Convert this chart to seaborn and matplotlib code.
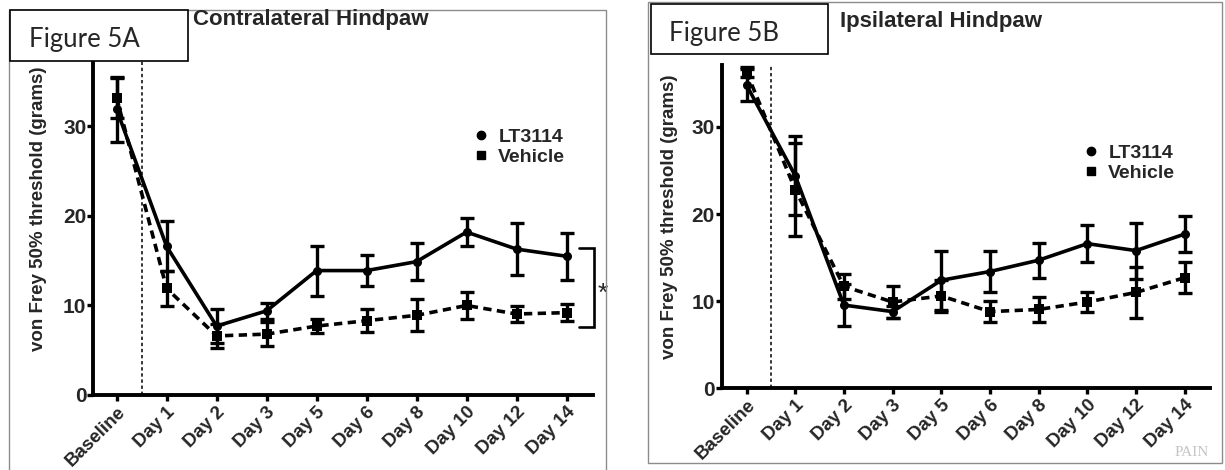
import numpy as np
import pandas as pd
import matplotlib
matplotlib.use("Agg")
import matplotlib.pyplot as plt
import seaborn as sns
from matplotlib.lines import Line2D
from matplotlib.patches import Rectangle

categories = ["Baseline", "Day 1", "Day 2", "Day 3", "Day 5", "Day 6",
              "Day 8", "Day 10", "Day 12", "Day 14"]
series_names = ["LT3114", "Vehicle"]

contra_lt_mean = [31.9, 16.6, 7.7, 9.4, 13.9, 13.9, 14.9, 18.2, 16.3, 15.5]
contra_lt_sem = [3.6, 2.8, 1.9, 0.9, 2.8, 1.75, 2.1, 1.6, 2.9, 2.6]
contra_veh_mean = [33.2, 11.9, 6.6, 6.8, 7.7, 8.3, 8.9, 10.0, 9.05, 9.2]
contra_veh_sem = [2.2, 2.0, 1.3, 1.3, 0.8, 1.3, 1.8, 1.5, 0.9, 0.95]

ipsi_lt_mean = [34.8, 24.4, 9.55, 8.8, 12.4, 13.4, 14.7, 16.6, 15.8, 17.7]
ipsi_lt_sem = [1.8, 4.5, 2.45, 0.7, 3.4, 2.4, 2.0, 2.1, 3.2, 2.1]
ipsi_veh_mean = [36.3, 22.8, 11.7, 9.9, 10.6, 8.8, 9.05, 9.9, 11.0, 12.7]
ipsi_veh_sem = [0.6, 5.3, 1.4, 1.8, 1.8, 1.2, 1.45, 1.2, 2.9, 1.75]

y_ticks = [0, 10, 20, 30]
panel_titles = ["Contralateral Hindpaw", "Ipsilateral Hindpaw"]
panel_tags = ["Figure 5A", "Figure 5B"]
y_label = "von Frey 50% threshold (grams)"

sns.set_theme(style="ticks")
plt.rcParams["font.family"] = ["Liberation Sans", "DejaVu Sans"]

W, H = 1225, 470
fig = plt.figure(figsize=(W / 100, H / 100), dpi=100)


def fx(px):
    return px / W


def fy(py):
    return 1 - py / H


def draw_panel(ax, lt_m, lt_s, veh_m, veh_s, xlim, ylim):
    pos = np.arange(len(categories))
    df = pd.DataFrame({
        "pos": np.concatenate([pos, pos]),
        "mean": np.concatenate([lt_m, veh_m]),
        "group": [series_names[0]] * len(pos) + [series_names[1]] * len(pos),
    })
    sns.lineplot(data=df, x="pos", y="mean", style="group",
                 markers={"LT3114": "o", "Vehicle": "s"},
                 dashes={"LT3114": "", "Vehicle": (2.3, 1.5)},
                 color="black", linewidth=2.6, markersize=6.5,
                 markeredgewidth=0, ax=ax, legend=False, zorder=3)
    for m, s in ((lt_m, lt_s), (veh_m, veh_s)):
        ax.errorbar(pos, m, yerr=s, fmt="none", ecolor="black",
                    elinewidth=2.4, capsize=5, capthick=2.4, zorder=4)
    ax.axvline(0.5, color="black", lw=1.1, ls=(0, (2.2, 1.8)), zorder=2)
    ax.set_xlim(*xlim)
    ax.set_ylim(*ylim)
    ax.set_xticks(pos)
    ax.set_xticklabels(categories, rotation=45, ha="right",
                       rotation_mode="anchor", fontsize=13.5, fontweight="bold")
    ax.set_yticks(y_ticks)
    ax.set_yticklabels([str(t) for t in y_ticks], fontsize=15,
                       fontweight="bold")
    ax.tick_params(axis="both", direction="out", length=4, width=2.4,
                   color="black", pad=1)
    ax.tick_params(axis="x", pad=2)
    for side in ("top", "right"):
        ax.spines[side].set_visible(False)
    for side in ("left", "bottom"):
        ax.spines[side].set_linewidth(2.8)
        ax.spines[side].set_color("black")
    ax.set_xlabel("")
    ax.set_ylabel(y_label, fontsize=13.5, fontweight="bold")
    ax.set_facecolor("white")


# Panel frames
fig.add_artist(Rectangle((fx(9), fy(480)), fx(606) - fx(9), fy(10) - fy(480),
                         transform=fig.transFigure, fill=False,
                         ec="#8c8c8c", lw=1.0))
fig.add_artist(Rectangle((fx(648), fy(463)), fx(1222) - fx(648), fy(2) - fy(463),
                         transform=fig.transFigure, fill=False,
                         ec="#8c8c8c", lw=1.0))

axA = fig.add_axes([fx(93.3), fy(395), fx(593) - fx(93.3), fy(62) - fy(395)])
draw_panel(axA, contra_lt_mean, contra_lt_sem, contra_veh_mean, contra_veh_sem,
           (-0.467, 9.53), (0, 37.2))
axA.yaxis.set_label_coords(-0.093, 0.56)

axB = fig.add_axes([fx(721.7), fy(388.3), fx(1210) - fx(721.7), fy(65) - fy(388.3)])
draw_panel(axB, ipsi_lt_mean, ipsi_lt_sem, ipsi_veh_mean, ipsi_veh_sem,
           (-0.51, 9.52), (0, 37.1))
axB.yaxis.set_label_coords(-0.0895, 0.53)

# significance bracket on panel A
axA.plot([9.24, 9.55, 9.55, 9.24], [16.4, 16.4, 7.6, 7.6], color="black",
         lw=1.9, clip_on=False, solid_joinstyle="miter")
axA.text(9.73, 11.3, "*", fontsize=19, ha="center",
         va="center", clip_on=False)

# legends
legend_handles = [Line2D([], [], marker="o", ls="none", color="black", ms=6),
                  Line2D([], [], marker="s", ls="none", color="black", ms=5.5)]
for ax, (lx, ly) in ((axA, (474, 128)), (axB, (1084, 144))):
    ax.legend(legend_handles, series_names, loc="upper left",
              bbox_to_anchor=(fx(lx), fy(ly)),
              bbox_transform=fig.transFigure, frameon=False,
              handlelength=0.7, handletextpad=0.55, labelspacing=0.12,
              borderpad=0, borderaxespad=0,
              prop={"size": 14, "weight": "bold"})

# titles
fig.text(fx(193), fy(19), panel_titles[0], fontsize=16, fontweight="bold",
         ha="left", va="center")
fig.text(fx(840), fy(22), panel_titles[1], fontsize=16, fontweight="bold",
         ha="left", va="center")

# Figure tag boxes
for (x0, y0, x1, y1), (tx, ty), tag in (((10, 10, 188, 61), (29, 40), panel_tags[0]),
                                          ((651, 4, 828, 54), (669, 33), panel_tags[1])):
    fig.add_artist(Rectangle((fx(x0), fy(y1)), fx(x1) - fx(x0), fy(y0) - fy(y1),
                             transform=fig.transFigure, fc="white",
                             ec="black", lw=1.2, zorder=5))
    fig.text(fx(tx), fy(ty), tag, fontsize=18.5, family=["Lato", "DejaVu Sans"],
             ha="left", va="center", zorder=6)

# watermark
fig.text(fx(1175), fy(452), "PAIN", fontsize=11, color="#c4c4c4",
         family=["Liberation Serif", "DejaVu Serif"], ha="left",
         va="center")

fig.savefig("out.png", dpi=100)
